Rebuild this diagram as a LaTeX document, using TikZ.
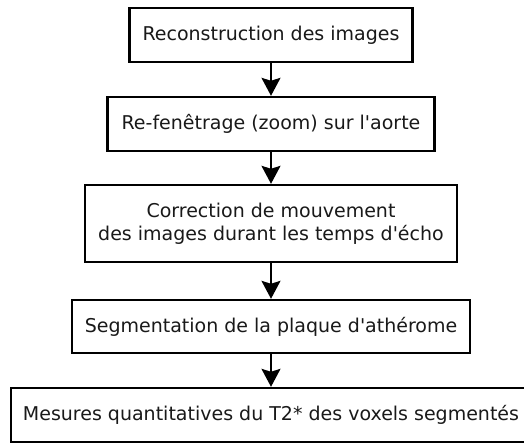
\documentclass[tikz,border=0pt]{standalone}
\usepackage{fontspec}
\setmainfont{DejaVu Sans}
\usetikzlibrary{arrows.meta}
\begin{document}
\begin{tikzpicture}[x=1pt,y=-1pt,
  stepbox/.style={draw=black, line width=2.4pt, rectangle, fill=white,
    align=center, inner sep=0pt, font=\fontsize{19}{23}\selectfont,
    text=black!90},
  flow/.style={line width=2pt, -{Stealth[length=18pt,width=19pt,inset=3pt]}}]
\useasboundingbox (0,0) rectangle (524,444);
\clip (0,0) rectangle (524,444);
\node[stepbox, minimum width=283pt, minimum height=54pt] (b1) at (271,35) {Reconstruction des images};
\node[stepbox, minimum width=327pt, minimum height=54pt] (b2) at (271,124) {Re-fenêtrage (zoom) sur l\textquotesingle aorte};
\node[stepbox, minimum width=372pt, minimum height=77pt] (b3) at (271,223.5) {Correction de mouvement\\des images durant les temps d\textquotesingle écho};
\node[stepbox, minimum width=398pt, minimum height=53pt] (b4) at (271,326.5) {Segmentation de la plaque d\textquotesingle athérome};
\node[stepbox, minimum width=520pt, minimum height=54pt] (b5) at (271,415) {Mesures quantitatives du T2* des voxels segmentés};
\draw[flow] (b1.south) -- (b2.north);
\draw[flow] (b2.south) -- (b3.north);
\draw[flow] (b3.south) -- (b4.north);
\draw[flow] (b4.south) -- (b5.north);
\end{tikzpicture}
\end{document}
